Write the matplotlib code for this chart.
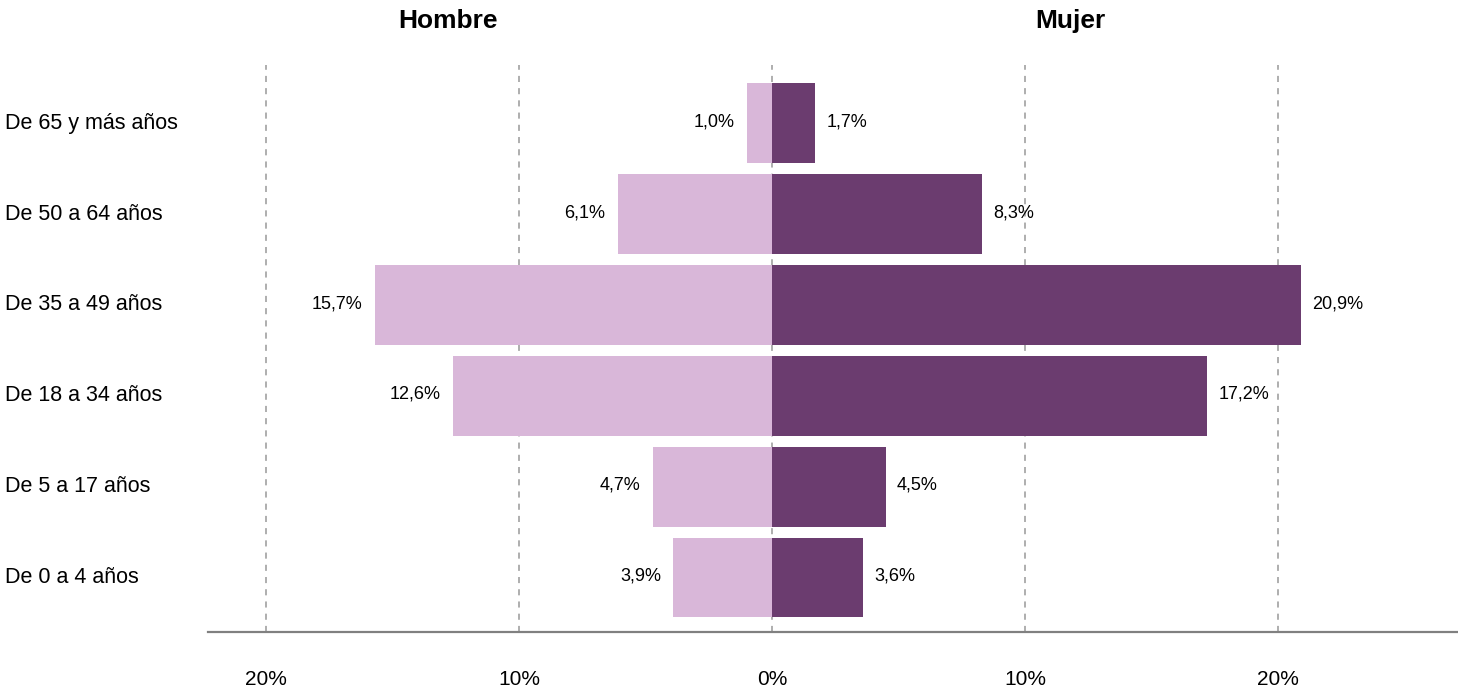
import numpy as np
import matplotlib
matplotlib.use("Agg")
import matplotlib.pyplot as plt

plt.rcParams['font.family'] = ['Liberation Sans', 'DejaVu Sans']

grupos = ['De 0 a 4 años', 'De 5 a 17 años', 'De 18 a 34 años',
          'De 35 a 49 años', 'De 50 a 64 años', 'De 65 y más años']
hombre = [3.9, 4.7, 12.6, 15.7, 6.1, 1.0]
mujer = [3.6, 4.5, 17.2, 20.9, 8.3, 1.7]
ticks = [-20, -10, 0, 10, 20]
tick_labels = ['20%', '10%', '0%', '10%', '20%']

COLOR_H = '#D9B7D9'
COLOR_M = '#6B3C6F'

def fmt(v):
    return f"{v:.1f}".replace('.', ',') + '%'

fig = plt.figure(figsize=(14.58, 6.92), dpi=100)
ax = fig.add_axes([0.1427, 0.0867, 0.857, 0.8193])

y = np.arange(len(grupos))
ax.barh(y, [-v for v in hombre], height=0.88, color=COLOR_H, zorder=3)
ax.barh(y, mujer, height=0.88, color=COLOR_M, zorder=3)

# etiquetas de valores
for yi, vh, vm in zip(y, hombre, mujer):
    ax.annotate(fmt(vh), (-vh, yi), xytext=(-9, 1), textcoords='offset points',
                ha='right', va='center', fontsize=13)
    ax.annotate(fmt(vm), (vm, yi), xytext=(8, 1), textcoords='offset points',
                ha='left', va='center', fontsize=13)

ax.set_xlim(-22.3, 27.1)
ax.set_ylim(-0.6, 5.64)
ax.set_xticks(ticks)
ax.set_xticklabels(tick_labels, fontsize=15)
ax.tick_params(axis='x', length=0, pad=27)
ax.set_yticks([])

# grupos de edad alineados a la izquierda
for yi, g in zip(y, grupos):
    ax.text(-0.1627, yi, g, transform=ax.get_yaxis_transform(),
            ha='left', va='center', fontsize=15.5)

ax.grid(axis='x', linestyle=(0, (4, 4)), color='#999999', linewidth=1.1, zorder=1)
for s in ['top', 'right', 'left']:
    ax.spines[s].set_visible(False)
ax.spines['bottom'].set_color('#808080')
ax.spines['bottom'].set_linewidth(1.6)

fig.text(448 / 1458, 1 - 21 / 692, 'Hombre', ha='center', va='center',
         fontsize=19, fontweight='bold')
fig.text(1070 / 1458, 1 - 21 / 692, 'Mujer', ha='center', va='center',
         fontsize=19, fontweight='bold')

fig.savefig('out.png', dpi=100)
